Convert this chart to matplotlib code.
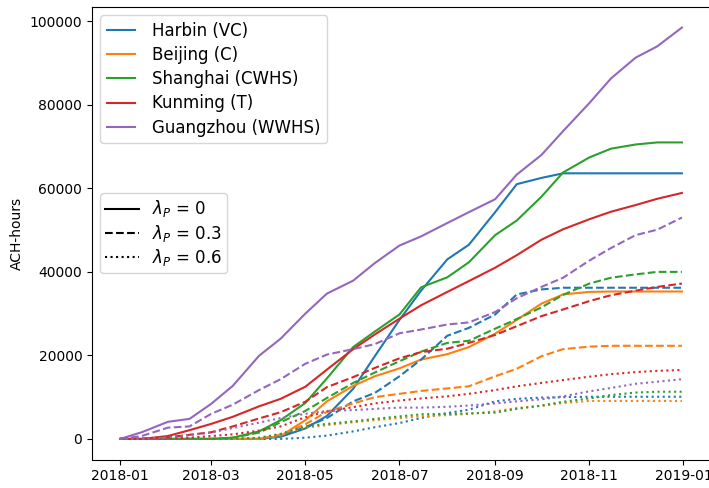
import numpy as np
import pandas as pd
import matplotlib
matplotlib.use('Agg')
import matplotlib.pyplot as plt
import matplotlib.dates as mdates
from matplotlib.lines import Line2D

# semi-monthly sample dates
dates = pd.to_datetime(['2018-01-01', '2018-01-15', '2018-02-01', '2018-02-15',
                        '2018-03-01', '2018-03-15', '2018-04-01', '2018-04-15',
                        '2018-05-01', '2018-05-15', '2018-06-01', '2018-06-15',
                        '2018-07-01', '2018-07-15', '2018-08-01', '2018-08-15',
                        '2018-09-01', '2018-09-15', '2018-10-01', '2018-10-15',
                        '2018-11-01', '2018-11-15', '2018-12-01', '2018-12-15',
                        '2018-12-31'])

cities = ['Harbin (VC)', 'Beijing (C)', 'Shanghai (CWHS)', 'Kunming (T)', 'Guangzhou (WWHS)']
lambdas = ['0', '0.3', '0.6']

# lambda_P = 0
harbin_0 = [0, 0, 0, 0, 0, 0, 0, 500, 2500, 5500, 12000, 19800, 28500, 35500, 43000,
            46500, 54300, 61000, 62500, 63600, 63600, 63600, 63600, 63600, 63600]
beijing_0 = [0, 0, 0, 0, 0, 0, 0, 700, 4500, 9000, 12700, 15000, 16900, 19000, 20300,
             22000, 25200, 28500, 32400, 34600, 35200, 35300, 35300, 35300, 35300]
shanghai_0 = [0, 0, 0, 0, 0, 300, 1800, 4500, 8600, 14500, 22000, 25700, 29800, 36300, 38700,
              42300, 48800, 52300, 58000, 63800, 67400, 69500, 70500, 71000, 71000]
kunming_0 = [0, 0, 700, 2100, 3600, 5300, 7800, 9600, 12500, 16600, 21500, 25000, 28800, 32000,
             35200, 37800, 41000, 44000, 47700, 50200, 52600, 54400, 56000, 57500, 58900]
guangzhou_0 = [0, 1600, 4100, 4800, 8400, 12700, 19900, 24000, 30000, 34800, 37900, 42100, 46300,
               48500, 51700, 54300, 57400, 63300, 68000, 73700, 80400, 86300, 91300, 94000, 98500]

# lambda_P = 0.3
harbin_03 = [0, 0, 0, 0, 0, 0, 0, 800, 2800, 5000, 9000, 11000, 15000, 19000, 24700,
             26600, 29800, 34600, 35800, 36200, 36200, 36200, 36200, 36200, 36200]
beijing_03 = [0, 0, 0, 0, 0, 0, 0, 1000, 3500, 6500, 8500, 10000, 10800, 11500, 12100,
              12600, 15000, 16800, 19800, 21500, 22100, 22300, 22300, 22300, 22300]
shanghai_03 = [0, 0, 0, 0, 0, 300, 1500, 4000, 6700, 9800, 13400, 15900, 18600, 20900, 23000,
               23500, 26400, 28700, 31500, 34500, 37200, 38600, 39400, 40000, 40000]
kunming_03 = [0, 0, 400, 1000, 1600, 3000, 4900, 6400, 8900, 12400, 14800, 17000, 19300, 20800,
              21600, 23000, 24900, 27000, 29400, 31000, 33000, 34400, 35500, 36400, 37200]
guangzhou_03 = [0, 700, 2700, 3000, 6000, 8200, 11700, 14300, 18000, 20200, 21500, 22700, 25300,
                26200, 27400, 27900, 30400, 33700, 36400, 38600, 42700, 45700, 48800, 50100, 53000]

# lambda_P = 0.6
harbin_06 = [0, 0, 0, 0, 0, 0, 0, 0, 300, 800, 1800, 2800, 3800, 5000, 6200,
             7000, 9000, 9600, 9900, 10000, 10100, 10100, 10100, 10100, 10100]
beijing_06 = [0, 0, 0, 0, 0, 0, 0, 1200, 2700, 3300, 4000, 4500, 5000, 5400, 5700,
              6000, 6600, 7400, 7900, 8600, 9100, 9100, 9100, 9100, 9100]
shanghai_06 = [0, 0, 0, 0, 0, 0, 300, 1200, 3000, 3600, 4200, 4800, 5400, 5900, 6000,
               6100, 6300, 7200, 8000, 8900, 9700, 10500, 11100, 11300, 11300]
kunming_06 = [0, 0, 100, 300, 700, 1100, 2000, 3000, 5200, 6600, 7600, 8500, 9200, 9700,
              10200, 10800, 11700, 12600, 13400, 14100, 14900, 15500, 16000, 16300, 16500]
guangzhou_06 = [0, 0, 400, 900, 1500, 2600, 3900, 5000, 6000, 6700, 6900, 7200, 7500, 7500,
                7700, 8000, 8500, 9000, 9500, 10200, 11400, 12200, 13200, 13700, 14300]

series = {
    '0': [harbin_0, beijing_0, shanghai_0, kunming_0, guangzhou_0],
    '0.3': [harbin_03, beijing_03, shanghai_03, kunming_03, guangzhou_03],
    '0.6': [harbin_06, beijing_06, shanghai_06, kunming_06, guangzhou_06],
}
styles = {'0': '-', '0.3': '--', '0.6': ':'}
colours = ['C0', 'C1', 'C2', 'C3', 'C4']

fig = plt.figure(figsize=(7.09, 4.88), dpi=100)
ax = fig.add_axes([92 / 709, 1 - 459.5 / 488, 618 / 709, 452.5 / 488])

for lam in lambdas:
    for i, city in enumerate(cities):
        ax.plot(dates, series[lam][i], color=colours[i], linestyle=styles[lam],
                label=city if lam == '0' else None)

ax.set_ylabel('ACH-hours')
ax.xaxis.set_major_locator(mdates.MonthLocator(bymonth=[1, 3, 5, 7, 9, 11]))
ax.xaxis.set_major_formatter(mdates.DateFormatter('%Y-%m'))

leg1 = ax.legend(loc='upper left', fontsize=12, labelspacing=0.37,
                 handlelength=1.7, handletextpad=1.0)
ax.add_artist(leg1)
lam_handles = [Line2D([], [], color='k', linestyle=styles[l]) for l in lambdas]
ax.legend(lam_handles, [r'$\lambda_P$ = ' + l for l in lambdas], loc='center left',
          fontsize=12, labelspacing=0.2, borderpad=0.3)

fig.savefig('out.png', dpi=100)
